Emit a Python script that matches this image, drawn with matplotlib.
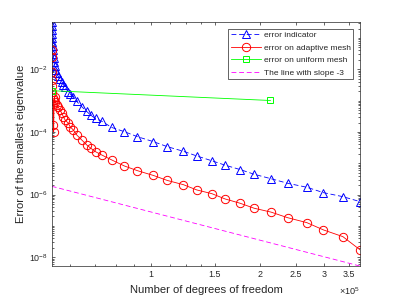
import matplotlib
matplotlib.use('Agg')
import matplotlib.pyplot as plt
from matplotlib.ticker import FixedLocator, FixedFormatter, LogLocator, NullFormatter

plt.rcParams['font.family'] = ['Liberation Sans', 'DejaVu Sans']
plt.rcParams['mathtext.fontset'] = 'custom'
plt.rcParams['mathtext.rm'] = 'Liberation Sans'
plt.rcParams['mathtext.it'] = 'Liberation Sans:italic'
plt.rcParams['mathtext.bf'] = 'Liberation Sans:bold'
plt.rcParams['lines.scale_dashes'] = False

# ---------------- data ----------------
dof = [53300, 53330, 53370, 53400, 53470, 53540, 53600, 53700, 53810, 53950,
       54080, 54250, 54430, 54950, 55470, 56180, 56790, 57370, 58000, 59220,
       59860, 61130, 62460, 64470, 66550, 68390, 70360, 73190, 77990, 84480,
       91750, 101570, 110980, 122840, 133710, 147090, 159970, 176020, 192410,
       214240, 237640, 268650, 298550, 337580, 376760]

err_indicator = [0.314, 0.241, 0.1795, 0.1339, 0.0998, 0.0744, 0.0554, 0.0413,
                 0.0308, 0.02294, 0.0171, 0.01274,
                 0.00950, 0.00762, 0.00611, 0.00490, 0.00402, 0.00327, 0.00266,
                 0.00189, 0.001628, 0.001259, 0.000938, 0.000640, 0.000450,
                 0.000335, 0.000269, 0.000219, 0.0001388, 0.0001019, 7.06e-5,
                 4.89e-5, 3.38e-5, 2.41e-5, 1.709e-5, 1.201e-5, 8.69e-6, 6.29e-6,
                 4.45e-6, 3.20e-6, 2.30e-6, 1.713e-6, 1.151e-6, 8.58e-7, 5.94e-7]

err_adaptive = [0.0413, 0.0247, 0.0082, 0.00456, 0.00293, 0.00189, 0.001213,
                0.000781, 0.000167, 9.97e-5, 0.001047, 0.001305,
                0.000924, 0.000725, 0.000640, 0.000502, 0.000394, 0.000307,
                0.000241, 0.000189, 0.0001472, 0.0001155, 8.0e-5, 5.54e-5,
                3.84e-5, 2.97e-5, 2.34e-5, 1.84e-5, 1.274e-5, 8.19e-6, 5.80e-6,
                4.08e-6, 2.82e-6, 2.07e-6, 1.405e-6, 1.070e-6, 7.25e-7, 5.28e-7,
                3.66e-7, 2.75e-7, 1.833e-7, 1.270e-7, 7.43e-8, 4.54e-8, 1.707e-8]

dof_uniform = [53300, 213200]
err_uniform = [0.002075, 0.00101]

slope_x = [53300, 376760]
slope_y = [1.84e-6, 5.2e-9]

xtick_vals = [1e5, 1.5e5, 2e5, 2.5e5, 3e5, 3.5e5]
xtick_labels = ['1', '1.5', '2', '2.5', '3', '3.5']
ytick_vals = [1e-8, 1e-6, 1e-4, 1e-2]

labels = ['error indicator', 'error on adaptive mesh',
          'error on uniform mesh', 'The line with slope -3']

# ---------------- plot ----------------
AX = '#262626'
fig = plt.figure(figsize=(3.98, 2.99), dpi=100)
ax = fig.add_axes([0.13, 0.11, 0.775, 0.815])

lw = 0.6
ax.plot(dof, err_indicator, color=(0, 0, 1), ls='--', dashes=(3.5, 2.0), lw=lw,
        marker='^', ms=6.0, mfc='none', mew=0.7, label=labels[0])
ax.plot(dof, err_adaptive, color=(1, 0, 0), ls='-', lw=lw,
        marker='o', ms=6.0, mfc='none', mew=0.7, label=labels[1])
ax.plot(dof_uniform, err_uniform, color=(0, 1, 0), ls='-', lw=lw,
        marker='s', ms=4.0, mfc='none', mew=0.7, label=labels[2])
ax.plot(slope_x, slope_y, color=(1, 0, 1), ls='--', dashes=(3.5, 2.0), lw=lw,
        label=labels[3])

ax.set_xscale('log')
ax.set_yscale('log')
all_y = err_indicator + err_adaptive + err_uniform + slope_y
ax.set_xlim(min(dof), max(dof))
ax.set_ylim(min(all_y), max(all_y))

ax.xaxis.set_major_locator(FixedLocator(xtick_vals))
ax.xaxis.set_major_formatter(FixedFormatter(xtick_labels))
ax.xaxis.set_minor_locator(FixedLocator([6e4, 7e4, 8e4, 9e4, 1.125e5, 1.25e5, 1.375e5]))
ax.xaxis.set_minor_formatter(NullFormatter())
ax.yaxis.set_major_locator(FixedLocator(ytick_vals))
ax.yaxis.set_minor_locator(LogLocator(base=10, subs=[1, 2, 3, 4, 5, 6, 7, 8, 9], numticks=50))
ax.yaxis.set_minor_formatter(NullFormatter())

for s in ax.spines.values():
    s.set_color(AX)
    s.set_linewidth(0.5)
ax.tick_params(which='both', direction='in', top=True, right=True,
               colors=AX, width=0.5, labelsize=6.4)
ax.tick_params(which='major', length=2.3, pad=2.5)
ax.tick_params(which='minor', length=1.2)

ax.set_xlabel('Number of degrees of freedom', fontsize=8.1, color=AX, va='center')
ax.xaxis.set_label_coords(0.5, -0.098)
ax.set_ylabel('Error of the smallest eigenvalue', fontsize=8.1, color=AX, va='center')
ax.yaxis.set_label_coords(-0.0995, 0.5)

ax.text(1.0, -0.103, r'$\times10^{5}$', transform=ax.transAxes, ha='right',
        va='center', fontsize=6.6, color=AX)

leg = ax.legend(loc='upper right', bbox_to_anchor=(0.977, 0.973), fontsize=6,
                frameon=True, fancybox=False, edgecolor=AX, framealpha=1,
                borderpad=0.3, labelspacing=0.55, handlelength=3.6,
                handletextpad=0.35, borderaxespad=0, numpoints=1)
leg.get_frame().set_linewidth(0.5)
for t in leg.get_texts():
    t.set_color(AX)

fig.savefig('out.png', dpi=100)
